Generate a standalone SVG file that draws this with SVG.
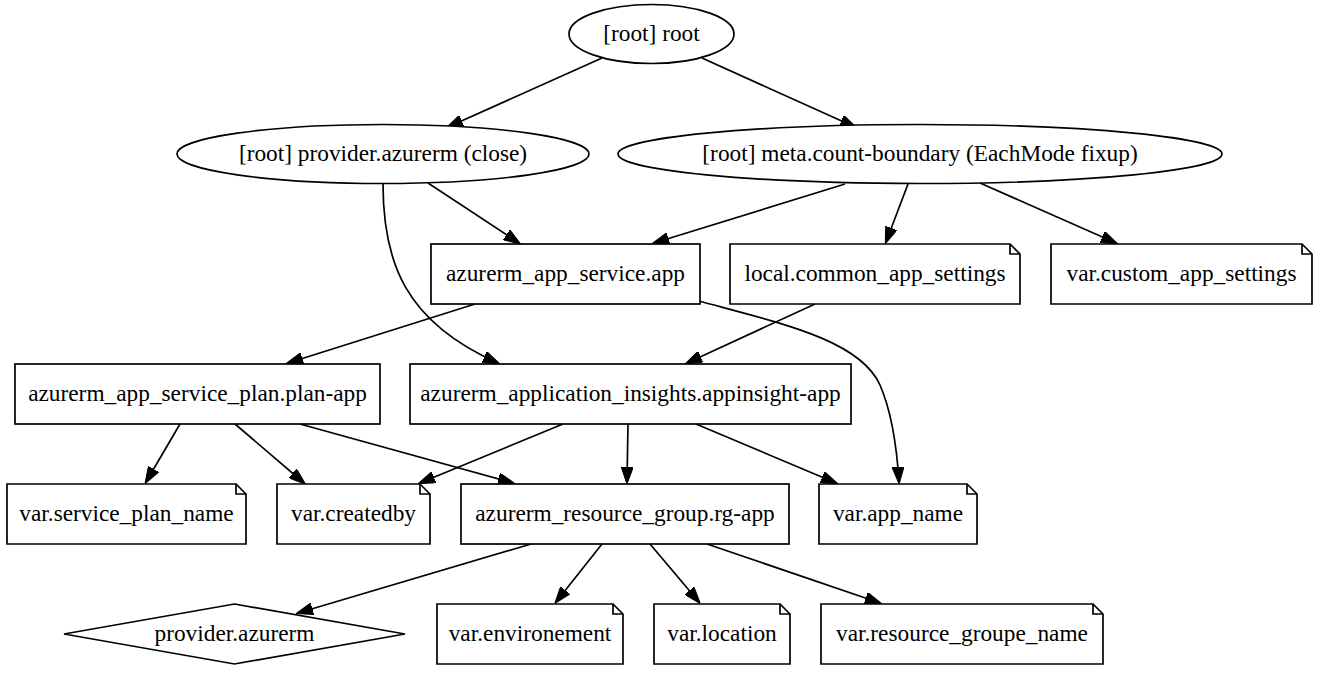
<svg xmlns="http://www.w3.org/2000/svg" width="1336" height="677" viewBox="0 0 1336 677">
<defs>
<style>
.n{fill:#fff;stroke:#000;stroke-width:1.7}
.f{fill:none;stroke:#000;stroke-width:1.7}
.t{font-family:"Liberation Serif","Times New Roman",serif;font-size:23.33px;text-anchor:middle;fill:#000}
.e{fill:none;stroke:#000;stroke-width:1.7;marker-end:url(#ah)}
</style>
<marker id="ah" markerUnits="userSpaceOnUse" viewBox="0 0 17 12" markerWidth="17" markerHeight="12" refX="15" refY="6" orient="auto">
<path d="M0,0 L17,6 L0,12 z" fill="#000" stroke="#000" stroke-width="1"/>
</marker>
</defs>
<rect width="1336" height="677" fill="#fff"/>
<g id="edges">
<path class="e" d="M602,58 L448,127"/>
<path class="e" d="M702,58 L855,127"/>
<path class="e" d="M428,183 L519,243"/>
<path class="e" d="M383,184 C383,262 405,322 498,363"/>
<path class="e" d="M845,184 L654,243"/>
<path class="e" d="M908,184 L886,242"/>
<path class="e" d="M980,183 L1116,243"/>
<path class="e" d="M475,304 L288,363"/>
<path class="e" d="M699,301 C780,323 860,340 880,385 C893,415 897,450 899,482"/>
<path class="e" d="M815,304 L687,363"/>
<path class="e" d="M180,424 L146,482"/>
<path class="e" d="M235,424 L304,483"/>
<path class="e" d="M300,424 L513,483"/>
<path class="e" d="M563,424 L420,483"/>
<path class="e" d="M628,424 L627,482"/>
<path class="e" d="M696,424 L836,483"/>
<path class="e" d="M531,544 L298,613"/>
<path class="e" d="M602,544 L556,602"/>
<path class="e" d="M650,544 L699,602"/>
<path class="e" d="M707,544 L880,603"/>
</g>
<g id="root"><ellipse class="n" cx="651.5" cy="34" rx="82.5" ry="29.5"/><text class="t" x="651.5" y="41">[root] root</text></g>
<g id="provider_close"><ellipse class="n" cx="383" cy="154" rx="206" ry="29.5"/><text class="t" x="383" y="161">[root] provider.azurerm (close)</text></g>
<g id="meta_count_boundary"><ellipse class="n" cx="920" cy="154" rx="302" ry="29.5"/><text class="t" x="920" y="161">[root] meta.count-boundary (EachMode fixup)</text></g>
<g id="app_service"><rect class="n" x="431" y="244" width="269" height="60"/><text class="t" x="565.5" y="281">azurerm_app_service.app</text></g>
<g id="local_common_app_settings"><path class="n" d="M730,244 H1010 L1020,254 V304 H730 Z"/><path class="f" d="M1010,244 V254 H1020"/><text class="t" x="875" y="281">local.common_app_settings</text></g>
<g id="var_custom_app_settings"><path class="n" d="M1051,244 H1302 L1312,254 V304 H1051 Z"/><path class="f" d="M1302,244 V254 H1312"/><text class="t" x="1181.5" y="281">var.custom_app_settings</text></g>
<g id="service_plan"><rect class="n" x="15" y="364" width="365" height="60"/><text class="t" x="197.5" y="401">azurerm_app_service_plan.plan-app</text></g>
<g id="app_insights"><rect class="n" x="410" y="364" width="441" height="60"/><text class="t" x="630.5" y="401">azurerm_application_insights.appinsight-app</text></g>
<g id="var_service_plan_name"><path class="n" d="M7,484 H236 L246,494 V544 H7 Z"/><path class="f" d="M236,484 V494 H246"/><text class="t" x="126.5" y="521">var.service_plan_name</text></g>
<g id="var_createdby"><path class="n" d="M277,484 H420 L430,494 V544 H277 Z"/><path class="f" d="M420,484 V494 H430"/><text class="t" x="353.5" y="521">var.createdby</text></g>
<g id="resource_group"><rect class="n" x="461" y="484" width="328" height="60"/><text class="t" x="625" y="521">azurerm_resource_group.rg-app</text></g>
<g id="var_app_name"><path class="n" d="M819,484 H967 L977,494 V544 H819 Z"/><path class="f" d="M967,484 V494 H977"/><text class="t" x="898" y="521">var.app_name</text></g>
<g id="provider_azurerm"><path class="n" d="M234.5,604 L405,634 L234.5,664 L64,634 Z"/><text class="t" x="234.5" y="641">provider.azurerm</text></g>
<g id="var_environement"><path class="n" d="M437,604 H613 L623,614 V664 H437 Z"/><path class="f" d="M613,604 V614 H623"/><text class="t" x="530" y="641">var.environement</text></g>
<g id="var_location"><path class="n" d="M654,604 H780 L790,614 V664 H654 Z"/><path class="f" d="M780,604 V614 H790"/><text class="t" x="722" y="641">var.location</text></g>
<g id="var_resource_groupe_name"><path class="n" d="M821,604 H1093 L1103,614 V664 H821 Z"/><path class="f" d="M1093,604 V614 H1103"/><text class="t" x="962" y="641">var.resource_groupe_name</text></g>
</svg>
